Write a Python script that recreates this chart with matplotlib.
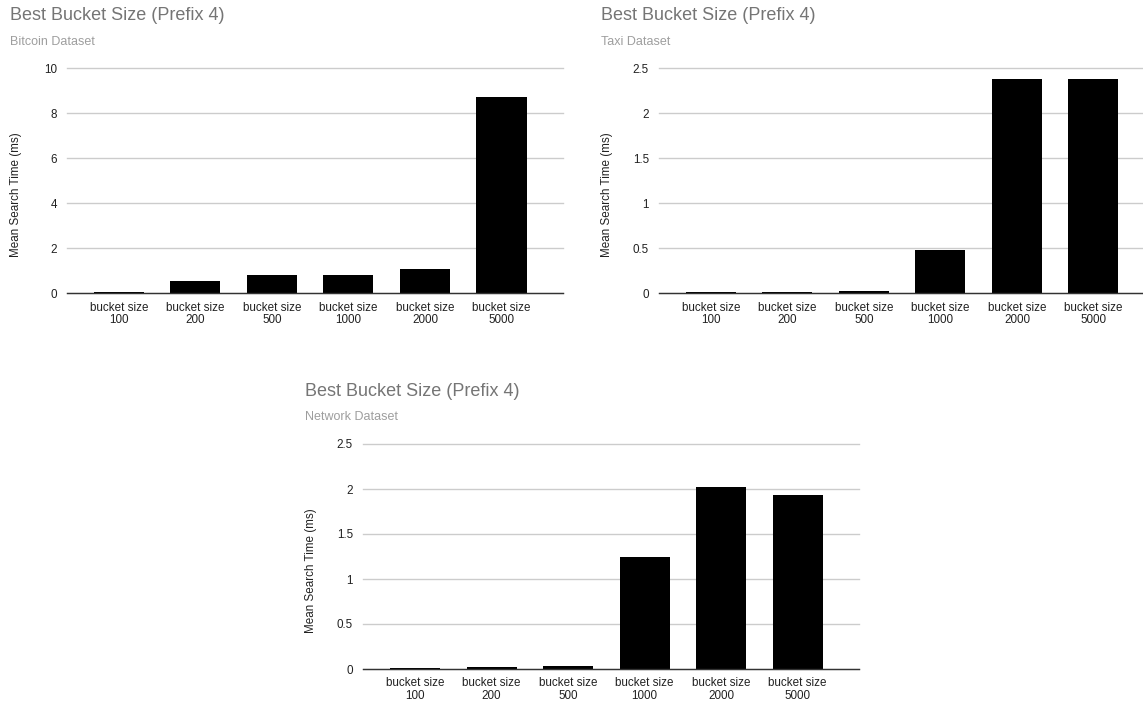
import matplotlib
matplotlib.use("Agg")
import matplotlib.pyplot as plt

plt.rcParams['font.family'] = ['Liberation Sans', 'DejaVu Sans']

categories = ["bucket size\n100", "bucket size\n200", "bucket size\n500",
              "bucket size\n1000", "bucket size\n2000", "bucket size\n5000"]
bitcoin_ms = [0.06, 0.55, 0.81, 0.81, 1.07, 8.73]
taxi_ms = [0.011, 0.011, 0.022, 0.485, 2.38, 2.38]
network_ms = [0.011, 0.022, 0.033, 1.244, 2.02, 1.933]

bitcoin_ticks = [0, 2, 4, 6, 8, 10]
other_ticks = [0, 0.5, 1, 1.5, 2, 2.5]
other_tick_labels = ["0", "0.5", "1", "1.5", "2", "2.5"]

title = "Best Bucket Size (Prefix 4)"
subtitles = ["Bitcoin Dataset", "Taxi Dataset", "Network Dataset"]
ylabel = "Mean Search Time (ms)"

W, H = 1143, 704
fig = plt.figure(figsize=(W / 100, H / 100), dpi=100)
fig.patch.set_facecolor("white")

AX_W = 495.4
SLOT = 76.5
LEFT_OFF = 51.7


def add_panel(left_px, top_px, bottom_px, values, ticks, tick_labels, subtitle,
              title_xy, sub_y, ylab_xy):
    ax = fig.add_axes([left_px / W, (H - bottom_px) / H, AX_W / W,
                       (bottom_px - top_px) / H])
    x = list(range(len(values)))
    ax.bar(x, values, width=50 / SLOT, color="black", zorder=3)
    ax.set_xlim(-LEFT_OFF / SLOT, (AX_W - LEFT_OFF) / SLOT)
    ax.set_ylim(ticks[0], ticks[-1])
    ax.set_yticks(ticks)
    ax.set_yticklabels(tick_labels)
    ax.set_xticks(x)
    ax.set_xticklabels(categories, linespacing=1.05)
    for s in ["top", "right", "left", "bottom"]:
        ax.spines[s].set_visible(False)
    ax.grid(axis="y", color="#cccccc", linewidth=1.0, zorder=0)
    for gl in ax.get_ygridlines():
        gl.set_clip_on(False)
    ax.axhline(0, color="#333333", linewidth=1.0, zorder=4, clip_on=False)
    ax.tick_params(axis="both", length=0, labelsize=8.4, colors="#222222")
    ax.tick_params(axis="y", pad=7.5)
    ax.tick_params(axis="x", pad=6)
    fig.text(title_xy[0] / W, 1 - title_xy[1] / H, title, fontsize=13,
             color="#757575", ha="left", va="center")
    fig.text(title_xy[0] / W, 1 - sub_y / H, subtitle, fontsize=9,
             color="#9e9e9e", ha="left", va="center")
    fig.text(ylab_xy[0] / W, 1 - ylab_xy[1] / H, ylabel, fontsize=8.4,
             color="#222222", rotation=90, ha="center", va="center")
    return ax


add_panel(67.3, 68.5, 293.3, bitcoin_ms, bitcoin_ticks,
          [str(t) for t in bitcoin_ticks], subtitles[0],
          (10, 15), 42, (15.7, 195))
add_panel(659.3, 68.5, 293.3, taxi_ms, other_ticks, other_tick_labels,
          subtitles[1], (600.7, 15), 42, (606.7, 195))
add_panel(363.3, 444, 669, network_ms, other_ticks, other_tick_labels,
          subtitles[2], (305, 391.7), 417.3, (310.7, 570.7))

fig.savefig("out.png", dpi=100, facecolor="white")
